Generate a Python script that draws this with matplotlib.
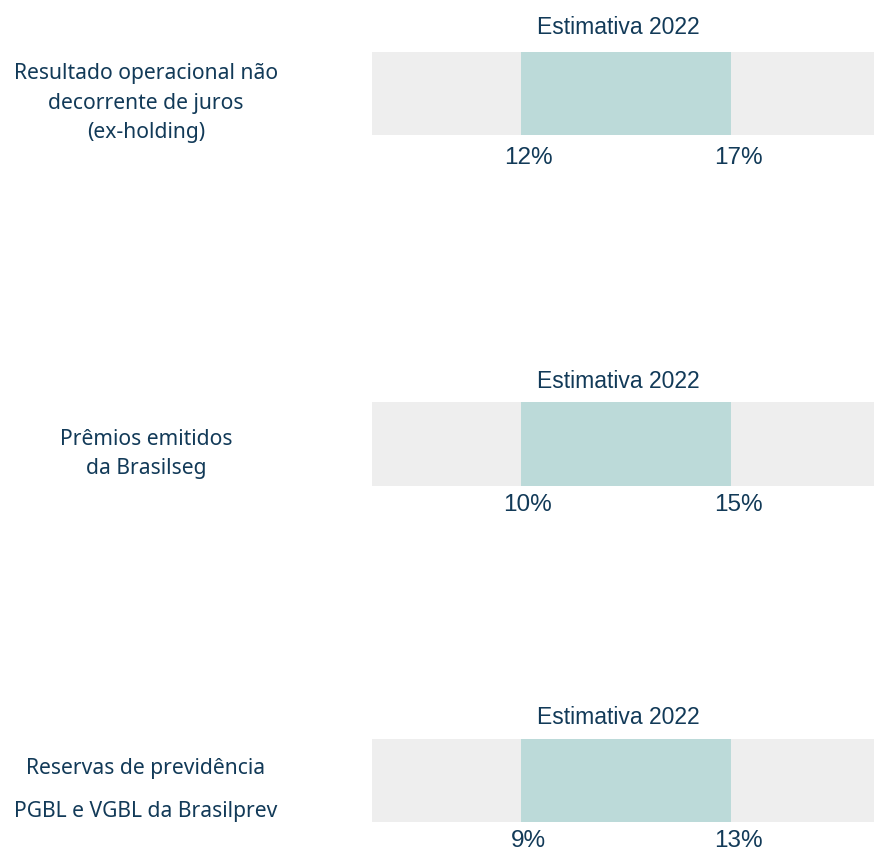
import matplotlib
matplotlib.use("Agg")
import matplotlib.pyplot as plt
from matplotlib import font_manager
from matplotlib.transforms import offset_copy, blended_transform_factory

# ---- data ----
categories = [
    "Resultado operacional não\ndecorrente de juros\n(ex-holding)",
    "Prêmios emitidos\nda Brasilseg",
    "Reservas de previdência\nPGBL e VGBL da Brasilprev",
]
low_values = [12, 10, 9]
high_values = [17, 15, 13]
titles = ["Estimativa 2022", "Estimativa 2022", "Estimativa 2022"]

# ---- style ----
W, H = 874, 852
TEXT = "#123a58"
GREY = "#eeeeee"
TEAL = "#bcdad9"

names = {f.name for f in font_manager.fontManager.ttflist}
narrow = ["Liberation Sans Narrow", "Liberation Sans", "DejaVu Sans"]
narrow = [n for n in narrow if n in names] or ["DejaVu Sans"]
label_font = ["Noto Sans", "Open Sans", "DejaVu Sans"]

fig = plt.figure(figsize=(W / 100, H / 100), dpi=100)
fig.patch.set_facecolor("white")

# bar boxes in pixels (top, bottom)
rows_px = [(52, 135), (402, 486), (739, 822)]
left_px, right_px = 372, 874
f_lo, f_hi = (521 - left_px) / (right_px - left_px), (731 - left_px) / (right_px - left_px)
label_y_px = [103, 454, 790]
linesp = [1.55, 1.55, 2.35]
title_gap_px = [25, 21, 21]
value_off_pt = [-16.5, -14, -13.5]

for i, (cat, lo, hi) in enumerate(zip(categories, low_values, high_values)):
    top, bot = rows_px[i]
    ax = fig.add_axes([left_px / W, 1 - bot / H, (right_px - left_px) / W, (bot - top) / H])
    span = (hi - lo) / (f_hi - f_lo)
    xmin = lo - f_lo * span
    xmax = xmin + span
    ax.barh([0.5], [xmax - xmin], left=[xmin], height=1.0, color=GREY, zorder=1)
    ax.barh([0.5], [hi - lo], left=[lo], height=1.0, color=TEAL, zorder=2)
    ax.set_xlim(xmin, xmax)
    ax.set_ylim(0, 1)
    ax.axis("off")

    # title
    ax.text(0.49, 1 + title_gap_px[i] / (bot - top), titles[i], transform=ax.transAxes,
            ha="center", va="center", fontsize=16.5, color=TEXT, family=narrow)

    # value labels
    tr = blended_transform_factory(ax.transData, ax.transAxes)
    for v in (lo, hi):
        t = offset_copy(tr, fig=fig, x=5, y=value_off_pt[i], units="points")
        ax.text(v, 0, f"{v}%", transform=t, ha="center", va="center",
                fontsize=17.5, color=TEXT, family=narrow)

    # category label
    fig.text(146 / W, 1 - label_y_px[i] / H, cat, ha="center", va="center",
             fontsize=15.2, color=TEXT, family=label_font, linespacing=linesp[i],
             multialignment="center")

fig.savefig("out.png", dpi=100, facecolor="white")
